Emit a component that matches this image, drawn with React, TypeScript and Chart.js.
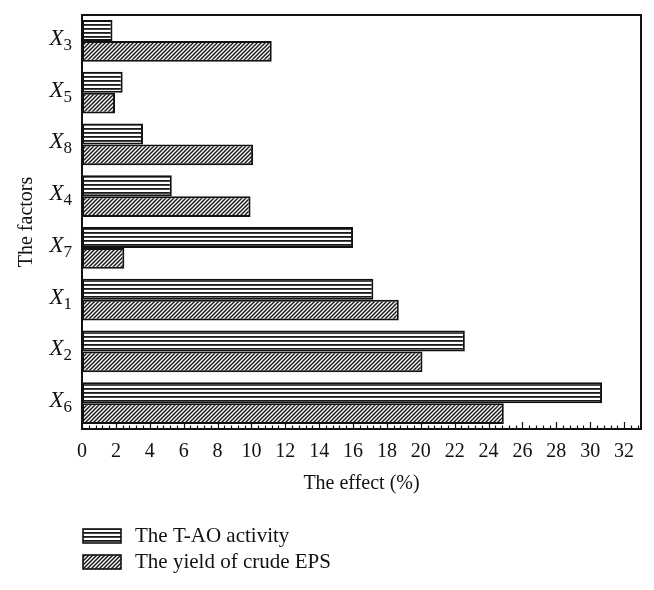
import React, { useEffect, useRef } from "react";
import { Chart, registerables } from "chart.js";

Chart.register(...registerables);

const categories = ["X3", "X5", "X8", "X4", "X7", "X1", "X2", "X6"];
const taoActivity = [1.8, 2.4, 3.6, 5.3, 16.0, 17.2, 22.6, 30.7];
const epsYield = [11.2, 1.95, 10.1, 9.95, 2.5, 18.7, 20.1, 24.9];
const seriesLabels = ["The T-AO activity", "The yield of crude EPS"];
const xTitle = "The effect (%)";
const yTitle = "The factors";
const xMin = 0;
const xMax = 33;
const majorStep = 2;
const minorPerMajor = 5;

const FONT = '"Liberation Serif", "Times New Roman", serif';
const INK = "#111";

function makeHPattern(ctx: CanvasRenderingContext2D) {
  const c = document.createElement("canvas");
  c.width = 4;
  c.height = 4;
  const g = c.getContext("2d")!;
  g.fillStyle = "#fff";
  g.fillRect(0, 0, 4, 4);
  g.fillStyle = "#1a1a1a";
  g.fillRect(0, 0, 4, 1.8);
  return ctx.createPattern(c, "repeat")!;
}

function makeDPattern(ctx: CanvasRenderingContext2D) {
  const c = document.createElement("canvas");
  c.width = 4;
  c.height = 4;
  const g = c.getContext("2d")!;
  g.fillStyle = "#fff";
  g.fillRect(0, 0, 4, 4);
  g.strokeStyle = "#1a1a1a";
  g.lineWidth = 1.5;
  g.beginPath();
  g.moveTo(0, 4);
  g.lineTo(4, 0);
  g.moveTo(-1, 1);
  g.lineTo(1, -1);
  g.moveTo(3, 5);
  g.lineTo(5, 3);
  g.stroke();
  return ctx.createPattern(c, "repeat")!;
}

const decoPlugin = {
  id: "deco",
  afterDatasetsDraw(chart: any) {
    const { ctx, chartArea: a, scales } = chart;
    const x = scales.x;
    const y = scales.y;
    ctx.save();
    // frame
    ctx.strokeStyle = INK;
    ctx.lineWidth = 2;
    ctx.strokeRect(a.left, a.top, a.right - a.left, a.bottom - a.top);
    // inward ticks
    ctx.lineWidth = 1.2;
    const minorStep = majorStep / minorPerMajor;
    const n = Math.floor((xMax - xMin) / minorStep + 1e-6);
    for (let i = 0; i <= n; i++) {
      const v = xMin + i * minorStep;
      const major = i % minorPerMajor === 0;
      const px = Math.round(x.getPixelForValue(v)) + 0.5;
      ctx.beginPath();
      ctx.moveTo(px, a.bottom);
      ctx.lineTo(px, a.bottom - (major ? 7 : 3.5));
      ctx.stroke();
    }
    // y category labels with subscripts
    ctx.fillStyle = INK;
    ctx.textBaseline = "alphabetic";
    ctx.textAlign = "left";
    categories.forEach((c, i) => {
      const py = y.getPixelForValue(i);
      const main = c.slice(0, 1);
      const sub = c.slice(1);
      ctx.font = `17px ${FONT}`;
      const subW = ctx.measureText(sub).width;
      ctx.font = `italic 23px ${FONT}`;
      const mainW = ctx.measureText(main).width;
      const right = a.left - 10;
      ctx.fillText(main, right - subW - mainW, py + 4);
      ctx.font = `17px ${FONT}`;
      ctx.fillText(sub, right - subW, py + 9);
    });
    ctx.restore();
  },
  afterDraw(chart: any) {
    const { ctx } = chart;
    ctx.save();
    chart.data.datasets.forEach((ds: any, i: number) => {
      const y0 = 529 + i * 26;
      ctx.fillStyle = ds.backgroundColor;
      ctx.fillRect(83, y0, 38, 14);
      ctx.strokeStyle = INK;
      ctx.lineWidth = 1.6;
      ctx.strokeRect(83, y0, 38, 14);
      ctx.fillStyle = INK;
      ctx.font = `21px ${FONT}`;
      ctx.textBaseline = "middle";
      ctx.textAlign = "left";
      ctx.fillText(ds.label, 135, y0 + 7);
    });
    ctx.restore();
  },
};

export default function App() {
  const ref = useRef<HTMLCanvasElement>(null);
  useEffect(() => {
    const canvas = ref.current!;
    const ctx = canvas.getContext("2d")!;
    const hp = makeHPattern(ctx);
    const dp = makeDPattern(ctx);
    const chart = new Chart(ctx, {
      type: "bar",
      data: {
        labels: categories,
        datasets: [
          {
            label: seriesLabels[0],
            data: taoActivity,
            backgroundColor: hp as any,
            borderColor: INK,
            borderWidth: 2,
            borderSkipped: false,
          },
          {
            label: seriesLabels[1],
            data: epsYield,
            backgroundColor: dp as any,
            borderColor: INK,
            borderWidth: 2,
            borderSkipped: false,
          },
        ],
      },
      options: {
        animation: false,
        responsive: false,
        devicePixelRatio: 1,
        indexAxis: "y",
        layout: { padding: { top: 15, right: 13, left: 0, bottom: 94 } },
        datasets: { bar: { categoryPercentage: 0.81, barPercentage: 1 } } as any,
        plugins: {
          legend: { display: false },
          tooltip: { enabled: false },
        },
        scales: {
          x: {
            type: "linear",
            position: "bottom",
            min: xMin,
            max: xMax,
            ticks: {
              stepSize: majorStep,
              includeBounds: false,
              autoSkip: false,
              maxRotation: 0,
              color: INK,
              font: { family: FONT, size: 20 },
              padding: 11,
            },
            grid: { display: false, drawTicks: false },
            border: { display: false },
            title: {
              display: true,
              text: xTitle,
              color: INK,
              font: { family: FONT, size: 20 },
              padding: 0,
            },
            afterFit: (s: any) => {
              s.height = 67;
            },
          },
          y: {
            type: "category",
            ticks: { display: false },
            grid: { display: false, drawTicks: false },
            border: { display: false },
            title: {
              display: true,
              text: yTitle,
              color: INK,
              font: { family: FONT, size: 20 },
              padding: { top: 15, bottom: 0 },
            },
            afterFit: (s: any) => {
              s.width = 82;
            },
          },
        },
      },
      plugins: [decoPlugin],
    });
    return () => chart.destroy();
  }, []);
  return (
    <div
      style={{
        position: "fixed",
        left: 0,
        top: 0,
        width: 654,
        height: 590,
        background: "#fff",
      }}
    >
      <canvas ref={ref} width={654} height={590} style={{ display: "block" }} />
    </div>
  );
}
